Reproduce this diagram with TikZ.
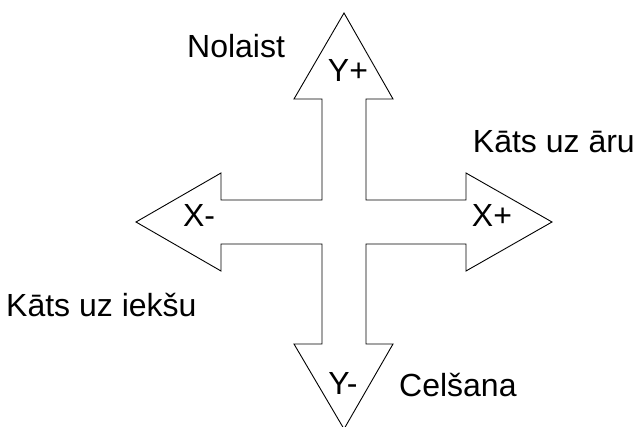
\documentclass[tikz,border=0pt]{standalone}
\usepackage{fontspec}
\setmainfont{Liberation Sans}
\begin{document}
\begin{tikzpicture}[x=1pt,y=-1pt,
  lbl/.style={inner sep=0pt,font=\fontsize{32}{38}\selectfont},
  outline/.style={draw=black,line width=0.9pt,line join=miter}]
\useasboundingbox (0,0) rectangle (637,427);
% four-way arrow outline
\draw[outline]
  (344,13) -- (393,99) -- (366,99) -- (366,200) -- (466,200) -- (466,173)
  -- (552,222) -- (466,271) -- (466,244) -- (366,244) -- (366,344)
  -- (393,344) -- (344,429) -- (294,344) -- (322,344) -- (322,244)
  -- (221,244) -- (221,271) -- (136,222) -- (221,173) -- (221,200)
  -- (322,200) -- (322,99) -- (294,99) -- cycle;
% direction labels inside the heads
\node[lbl,anchor=base] (yp) at (348,82) {Y+};
\node[lbl,anchor=base] (ym) at (343,394) {Y-};
\node[lbl,anchor=base] (xm) at (199,227) {X-};
\node[lbl,anchor=base] (xp) at (492,227) {X+};
% action labels
\node[lbl,anchor=base west] (down) at (187,58) {Nolaist};
\node[lbl,anchor=base east] (out) at (635,153) {Kāts uz āru};
\node[lbl,anchor=base west] (in) at (6,317) {Kāts uz iekšu};
\node[lbl,anchor=base west] (lift) at (399,396) {Celšana};
\end{tikzpicture}
\end{document}
